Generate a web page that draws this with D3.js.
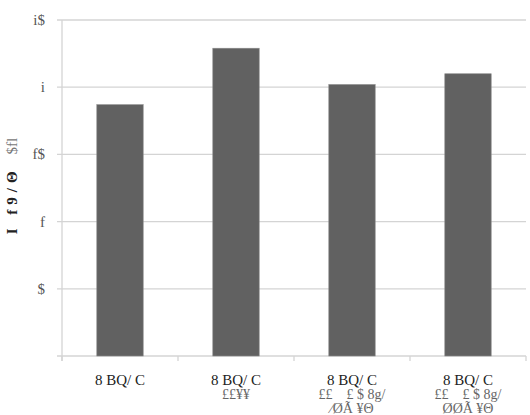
<!DOCTYPE html>
<html>
<head>
<meta charset="utf-8">
<script src="https://cdn.jsdelivr.net/npm/d3@7"></script>
<style>
  body { margin: 0; background: #fff; }
  text { font-family: "Liberation Serif", "DejaVu Serif", serif; white-space: pre; }
</style>
</head>
<body>
<div id="chart"></div>
<script>
// Chart data (labels kept as they appear in the picture)
const categories = ["c1", "c2", "c3", "c4"];
const values = [18.7, 22.9, 20.2, 21.0];
const catLabels = [
    ["8 BQ/ C"],
    ["8 BQ/ C", "££¥¥"],
    ["8 BQ/ C", "££    £ $ 8g/", "⁄ØÃ ¥Θ"],
    ["8 BQ/ C", "££    £ $ 8g/", "ØØÃ ¥Θ"]
];
const tickValues = [0, 5, 10, 15, 20, 25];
const tickLabels = ["", "$", "f", "f$", "i", "i$"];
const yTitleBold = "I f9/Θ";
const yTitleThin = "$fl";

const W = 530, H = 415;
const margin = { top: 20, right: 4, bottom: 59, left: 62 };
const width = W - margin.left - margin.right;
const height = H - margin.top - margin.bottom;

const svg = d3.select("#chart").append("svg")
    .attr("width", W)
    .attr("height", H);

const g = svg.append("g")
    .attr("transform", `translate(${margin.left},${margin.top})`);

const x = d3.scaleBand().domain(categories).range([0, width]).paddingInner(0.6).paddingOuter(0.3);
const y = d3.scaleLinear().domain([0, 25]).range([height, 0]);

// gridlines
g.selectAll("line.grid")
    .data(tickValues)
    .enter().append("line")
    .attr("class", "grid")
    .attr("x1", -5).attr("x2", width)
    .attr("y1", d => y(d)).attr("y2", d => y(d))
    .attr("stroke", "#d4d4d4")
    .attr("stroke-width", 1.3);

// y axis line
g.append("line")
    .attr("x1", 0).attr("x2", 0)
    .attr("y1", 0).attr("y2", height + 5)
    .attr("stroke", "#d4d4d4")
    .attr("stroke-width", 1.3);

// x axis ticks between categories
const edges = d3.range(categories.length + 1).map(i => i * width / categories.length);
g.selectAll("line.xtick")
    .data(edges)
    .enter().append("line")
    .attr("x1", d => d).attr("x2", d => d)
    .attr("y1", height).attr("y2", height + 5)
    .attr("stroke", "#d4d4d4")
    .attr("stroke-width", 1.3);

// y tick labels
g.selectAll("text.ytick")
    .data(tickValues)
    .enter().append("text")
    .attr("x", -17)
    .attr("y", d => y(d) + 5)
    .attr("text-anchor", "end")
    .attr("font-size", 15)
    .attr("fill", "#555")
    .text((d, i) => tickLabels[i]);

// bars
g.selectAll("rect.bar")
    .data(values)
    .enter().append("rect")
    .attr("x", (d, i) => x(categories[i]))
    .attr("width", x.bandwidth())
    .attr("y", d => y(d))
    .attr("height", d => height - y(d))
    .attr("fill", "#616161")
    .attr("stroke", "#8a8a8a")
    .attr("stroke-width", 0.6);

// category labels
categories.forEach((c, i) => {
    const cx = (i + 0.5) * width / categories.length;
    catLabels[i].forEach((line, j) => {
        g.append("text")
            .attr("x", cx)
            .attr("y", height + 29 + j * 14)
            .attr("text-anchor", "middle")
            .attr("font-size", j === 0 ? 15 : 14)
            .attr("fill", j === 0 ? "#222" : "#666")
            .text(line);
    });
});

// y axis title
const yt = svg.append("text")
    .attr("transform", `translate(17,${margin.top + height / 2 - 2}) rotate(-90)`)
    .attr("text-anchor", "middle")
    .attr("font-size", 15);
yt.append("tspan").attr("font-weight", "bold").attr("fill", "#222")
    .attr("letter-spacing", 5).text(yTitleBold);
yt.append("tspan").attr("dx", 12).attr("fill", "#777").text(yTitleThin);
</script>
</body>
</html>
